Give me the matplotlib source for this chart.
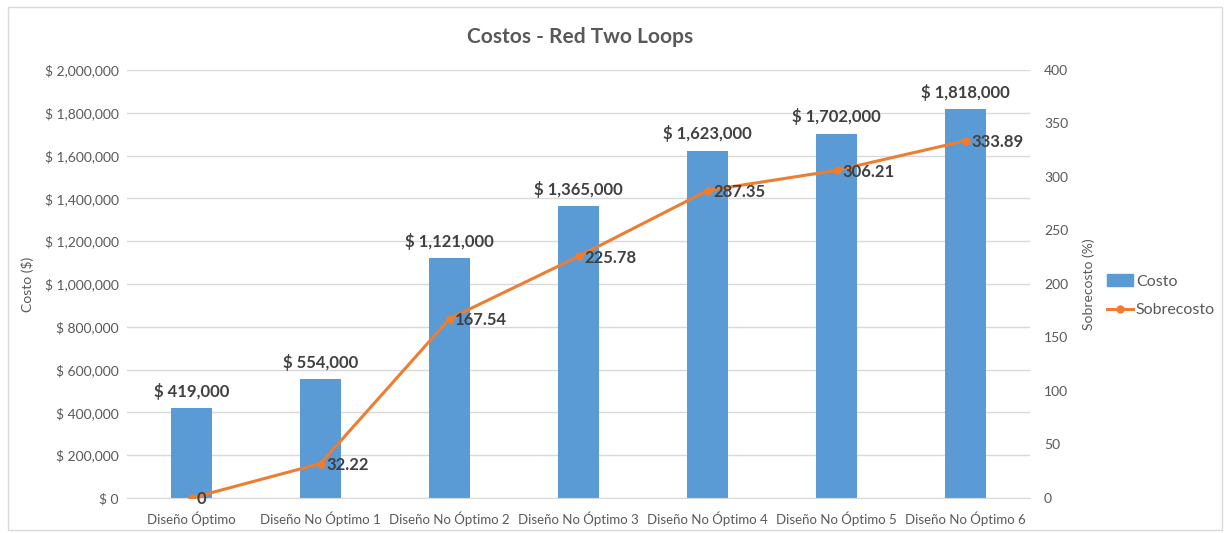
import matplotlib.pyplot as plt
from matplotlib.patches import Rectangle
from matplotlib.lines import Line2D
from matplotlib.ticker import FuncFormatter, MultipleLocator

disenos = ['Diseño Óptimo', 'Diseño No Óptimo 1', 'Diseño No Óptimo 2', 'Diseño No Óptimo 3',
           'Diseño No Óptimo 4', 'Diseño No Óptimo 5', 'Diseño No Óptimo 6']
costo = [419000, 554000, 1121000, 1365000, 1623000, 1702000, 1818000]
sobrecosto = [0, 32.22, 167.54, 225.78, 287.35, 306.21, 333.89]

azul = '#5B9BD5'
naranja = '#ED7D31'
gris = '#595959'
oscuro = '#404040'

plt.rcParams['font.family'] = ['Lato', 'DejaVu Sans']

fig = plt.figure(figsize=(12.25, 5.33), dpi=100)
fig.patches.append(Rectangle((8 / 1225, 3 / 533), 1214 / 1225, 523 / 533, transform=fig.transFigure,
                             fill=False, edgecolor='#D9D9D9', linewidth=1))

ax = fig.add_axes([0.1037, 0.0657, 0.7372, 0.803])
x = list(range(len(disenos)))
barras = ax.bar(x, costo, width=0.32, color=azul, zorder=2)
ax.set_ylim(0, 2000000)
ax.set_xlim(-0.5, len(disenos) - 0.5)
ax.yaxis.set_major_locator(MultipleLocator(200000))
ax.yaxis.set_major_formatter(FuncFormatter(lambda v, p: '$ {:,.0f}'.format(v)))
ax.grid(axis='y', color='#D9D9D9', linewidth=1, zorder=0)
ax.set_xticks(x)
ax.set_xticklabels(disenos)
ax.tick_params(axis='y', length=0, labelsize=10, colors=gris, pad=6)
ax.tick_params(axis='x', length=0, labelsize=9.5, colors=gris, pad=10)
ax.set_ylabel('Costo ($)', fontsize=10, color=gris, labelpad=8)
for s in ['top', 'right', 'left']:
    ax.spines[s].set_visible(False)
ax.spines['bottom'].set_color('#D9D9D9')

# etiquetas de costo sobre las barras
for xi, c in zip(x, costo):
    ax.annotate('$ {:,.0f}'.format(c), (xi, c), xytext=(0, 6), textcoords='offset points',
                ha='center', va='bottom', fontsize=12, fontweight='bold', color=oscuro)

ax2 = ax.twinx()
ax2.plot(x, sobrecosto, color=naranja, linewidth=2.2, marker='o', markersize=5, zorder=3)
ax2.set_ylim(0, 400)
ax2.yaxis.set_major_locator(MultipleLocator(50))
ax2.tick_params(axis='y', length=0, labelsize=10, colors=gris, pad=10)
ax2.set_ylabel('Sobrecosto (%)', fontsize=10, color=gris, labelpad=10)
for s in ['top', 'right', 'left', 'bottom']:
    ax2.spines[s].set_visible(False)

# etiquetas de sobrecosto a la derecha de cada punto
for xi, s in zip(x, sobrecosto):
    ax2.annotate('{:g}'.format(s), (xi, s), xytext=(4, -1), textcoords='offset points',
                 ha='left', va='center', fontsize=12, fontweight='bold', color=oscuro)

fig.text(0.4735, 0.93, 'Costos - Red Two Loops', ha='center', va='center',
         fontsize=15, fontweight='bold', color=gris)

handles = [Rectangle((0, 0), 1, 1, color=azul),
           Line2D([], [], color=naranja, linewidth=2.2, marker='o', markersize=5)]
fig.legend(handles, ['Costo', 'Sobrecosto'], loc='center left', bbox_to_anchor=(0.892, 0.445),
           frameon=False, fontsize=11.5, labelcolor=gris, handlelength=1.6, handletextpad=0.2,
           labelspacing=0.9)

fig.savefig('out.png', dpi=100)
